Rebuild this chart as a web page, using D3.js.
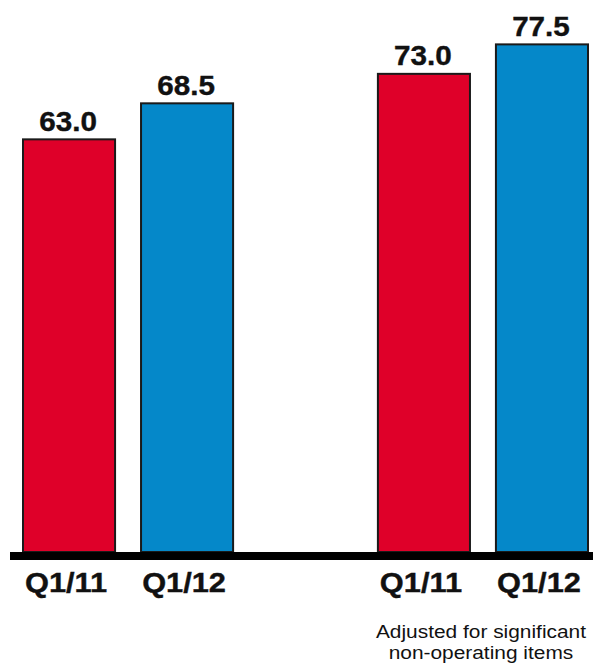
<!DOCTYPE html>
<html>
<head>
<meta charset="utf-8">
<script src="https://cdn.jsdelivr.net/npm/d3@7"></script>
<style>
  html, body { margin: 0; padding: 0; background: #ffffff; }
  svg { display: block; }
  text { font-family: "Liberation Sans", Arial, Helvetica, sans-serif; }
</style>
</head>
<body>
<svg id="chart" width="593" height="666"></svg>
<script>
// Quarterly figures: as reported and adjusted for significant non-operating items
const groups = ["reported", "adjusted"];
const periods = ["Q1/11", "Q1/12"];
const reportedValues = [63.0, 68.5];
const adjustedValues = [73.0, 77.5];
const periodColors = ["#DF0029", "#0588C9"];
const noteLines = ["Adjusted for significant", "non-operating items"];

const rows = [];
groups.forEach((g, gi) => {
  const vals = gi === 0 ? reportedValues : adjustedValues;
  periods.forEach((p, pi) => rows.push({ group: g, period: p, value: vals[pi], color: periodColors[pi] }));
});

const svg = d3.select("#chart");
const baseY = 552;

const x0 = d3.scaleBand().domain(groups).range([23, 588]).paddingInner(0.408).paddingOuter(0);
const x1 = d3.scaleBand().domain(periods).range([0, x0.bandwidth()]).paddingInner(0.22).paddingOuter(0);
const y = d3.scaleLinear().domain([0, 80]).range([baseY, baseY - 80 * 6.55]);

const bars = svg.append("g").selectAll("g").data(rows).join("g")
  .attr("transform", d => `translate(${x0(d.group) + x1(d.period)},0)`);

bars.append("rect")
  .attr("x", 0)
  .attr("y", d => y(d.value))
  .attr("width", x1.bandwidth())
  .attr("height", d => y(0) - y(d.value))
  .attr("fill", d => d.color)
  .attr("stroke", "#1a1a1a")
  .attr("stroke-width", 2);

// value labels above each bar
bars.append("text")
  .attr("transform", d => `translate(${x1.bandwidth() / 2 - 1},${y(d.value) - 8.5}) scale(1.04,1)`)
  .attr("text-anchor", "middle")
  .attr("font-size", 28.5)
  .attr("font-weight", "bold")
  .attr("fill", "#111")
  .attr("stroke", "#111")
  .attr("stroke-width", 0.4)
  .text(d => d.value.toFixed(1));

// period labels under the axis
bars.append("text")
  .attr("transform", `translate(${x1.bandwidth() / 2 - 3},592) scale(1.08,1)`)
  .attr("text-anchor", "middle")
  .attr("font-size", 28.5)
  .attr("font-weight", "bold")
  .attr("fill", "#111")
  .attr("stroke", "#111")
  .attr("stroke-width", 0.4)
  .text(d => d.period);

// heavy baseline
svg.append("line")
  .attr("x1", 10).attr("x2", 593)
  .attr("y1", baseY + 4).attr("y2", baseY + 4)
  .attr("stroke", "#000").attr("stroke-width", 8);

// footnote under the adjusted group
const noteX = x0("adjusted") + x0.bandwidth() / 2 - 2;
svg.append("text")
  .attr("transform", `translate(${noteX},637.5) scale(1.13,1)`)
  .attr("text-anchor", "middle")
  .attr("font-size", 18.5)
  .attr("fill", "#111")
  .selectAll("tspan").data(noteLines).join("tspan")
  .attr("x", 0)
  .attr("y", (d, i) => i * 21.5)
  .text(d => d);
</script>
</body>
</html>
